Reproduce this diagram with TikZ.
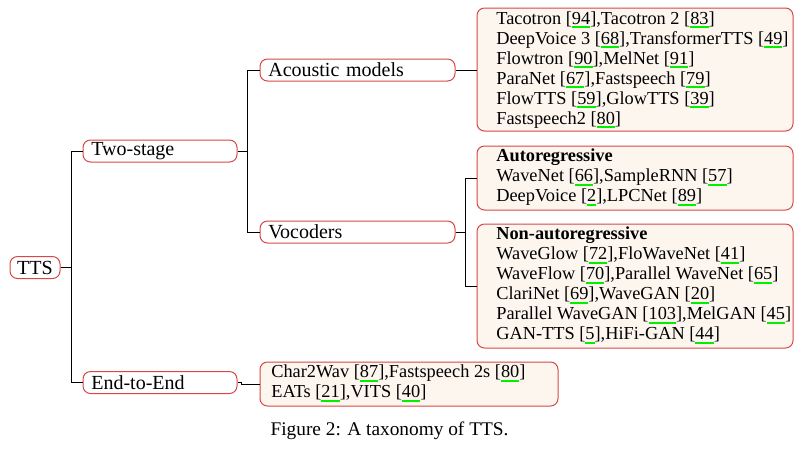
\documentclass[tikz,border=0pt]{standalone}
\usepackage{fontspec}
\setmainfont{Liberation Serif}
\definecolor{bordercol}{RGB}{214,72,72}
\definecolor{listfill}{RGB}{253,246,239}
\definecolor{linkgreen}{RGB}{0,240,0}
\newcommand\rf[1]{[\setbox0\hbox{#1}\rlap{\color{linkgreen}\rule[-2.5pt]{\wd0}{1.2pt}}\box0]}
\tikzset{
  lbl/.style={draw=bordercol, line width=0.6pt, fill=white, rounded corners=4.5pt,
    minimum height=13.2pt, inner xsep=5pt, inner ysep=0pt, align=left,
    font=\fontsize{12}{13}\selectfont},
  listbox/.style={draw=bordercol, line width=0.6pt, fill=listfill, rounded corners=4.5pt, inner sep=0pt},
  listtext/.style={anchor=west, inner sep=0pt, align=left, font=\fontsize{11}{12}\selectfont},
  conn/.style={line width=0.6pt, black}
}
\begin{document}
\begin{tikzpicture}[x=0.6pt,y=-0.6pt]
\useasboundingbox (0,0) rectangle (804,449);
% label nodes
\node[lbl, minimum width=30pt, align=center, inner xsep=2pt] (tts) at (35,267.5) {TTS};
\node[lbl, text width=82.4pt] (two) at (160,151) {Two-stage};
\node[lbl, text width=82.4pt] (e2e) at (160,382.5) {End-to-End};
\node[lbl, text width=107pt] (acou) at (357.5,70) {Acoustic models};
\node[lbl, text width=107pt] (voc) at (357.5,232) {Vocoders};
% list boxes
\node[listbox, minimum width=189.6pt, minimum height=73.8pt] (alist) at (635,69.5) {};
\node[listbox, minimum width=189.6pt, minimum height=38.4pt] (ar) at (635,178) {};
\node[listbox, minimum width=189.6pt, minimum height=74.4pt] (nar) at (635,286) {};
\node[listbox, minimum width=178.8pt, minimum height=26.4pt] (elist) at (409,384) {};
% list texts
\node[listtext] (alistt) at (496,70) {Tacotron \rf{94},Tacotron 2 \rf{83}\\
DeepVoice 3 \rf{68},TransformerTTS \rf{49}\\
Flowtron \rf{90},MelNet \rf{91}\\
ParaNet \rf{67},Fastspeech \rf{79}\\
FlowTTS \rf{59},GlowTTS \rf{39}\\
Fastspeech2 \rf{80}};
\node[listtext] (art) at (496,177.5) {\textbf{Autoregressive}\\
WaveNet \rf{66},SampleRNN \rf{57}\\
DeepVoice \rf{2},LPCNet \rf{89}};
\node[listtext] (nart) at (496,285.5) {\textbf{Non-autoregressive}\\
WaveGlow \rf{72},FloWaveNet \rf{41}\\
WaveFlow \rf{70},Parallel WaveNet \rf{65}\\
ClariNet \rf{69},WaveGAN \rf{20}\\
Parallel WaveGAN \rf{103},MelGAN \rf{45}\\
GAN-TTS \rf{5},HiFi-GAN \rf{44}};
\node[listtext] (elistt) at (271,383.5) {Char2Wav \rf{87},Fastspeech 2s \rf{80}\\
EATs \rf{21},VITS \rf{40}};
% connectors
\draw[conn] (tts.east) -- +(11,0) |- (two.west);
\draw[conn] (tts.east) -- +(11,0) |- (e2e.west);
\draw[conn] (two.east) -- +(10,0) |- (acou.west);
\draw[conn] (two.east) -- +(10,0) |- (voc.west);
\draw[conn] (acou.east) -- (acou.east -| alist.west);
\draw[conn] (voc.east) -- +(10,0) |- (ar.west);
\draw[conn] (voc.east) -- +(10,0) |- (nar.west);
\draw[conn] (e2e.east) -- +(4,0) |- (elist.west);
% caption
\node[font=\fontsize{11.6}{14}\selectfont, inner sep=0pt] (cap) at (389.5,431) {Figure 2: A taxonomy of TTS.};
\end{tikzpicture}
\end{document}
